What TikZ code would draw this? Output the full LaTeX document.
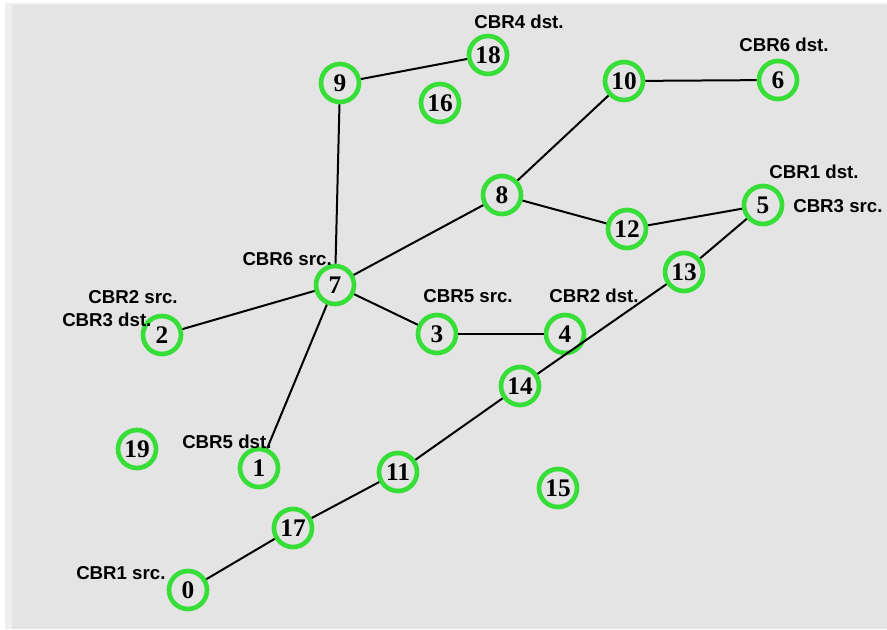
\documentclass[tikz,border=0pt]{standalone}
\usepackage{fontspec}
\setmainfont{Liberation Serif}
\newfontfamily\labfont{Liberation Sans}
\definecolor{bggray}{RGB}{228,228,228}
\definecolor{nodegreen}{RGB}{55,222,55}
\begin{document}
\begin{tikzpicture}[x=0.75pt,y=-0.75pt,
  mote/.style={circle,draw=nodegreen,line width=3.5pt,minimum size=28.5pt,inner sep=0pt,
    font=\fontsize{19}{19}\selectfont\bfseries},
  link/.style={black,line width=1.5pt},
  tag/.style={font=\labfont\fontsize{14}{16}\selectfont\bfseries,inner sep=0pt}]
  % canvas
  \useasboundingbox (0,0) rectangle (887,629);
  \fill[white] (0,0) rectangle (887,629);
  \fill[bggray!60] (5,3) rectangle (887,629);
  \fill[bggray] (12,5) rectangle (887,629);

  % nodes
  \node[mote] (n0)  at (188,590) {0};
  \node[mote] (n1)  at (259,468) {1};
  \node[mote] (n2)  at (162,335) {2};
  \node[mote] (n3)  at (437,334) {3};
  \node[mote] (n4)  at (565,334) {4};
  \node[mote] (n5)  at (763,205) {5};
  \node[mote] (n6)  at (778,80)  {6};
  \node[mote] (n7)  at (335,285) {7};
  \node[mote] (n8)  at (502,195) {8};
  \node[mote] (n9)  at (340,83)  {9};
  \node[mote] (n10) at (624,81)  {10};
  \node[mote] (n11) at (398,472) {11};
  \node[mote] (n12) at (627,229) {12};
  \node[mote] (n13) at (684,272) {13};
  \node[mote] (n14) at (520,386) {14};
  \node[mote] (n15) at (558,488) {15};
  \node[mote] (n16) at (440,103) {16};
  \node[mote] (n17) at (293,528) {17};
  \node[mote] (n18) at (488,55)  {18};
  \node[mote] (n19) at (137,449) {19};

  % links
  \draw[link] (n9) -- (n18);
  \draw[link] (n9) -- (n7);
  \draw[link] (n10) -- (n6);
  \draw[link] (n10) -- (n8);
  \draw[link] (n8) -- (n7);
  \draw[link] (n8) -- (n12);
  \draw[link] (n12) -- (n5);
  \draw[link] (n5) -- (n13);
  \draw[link] (n13) -- (n14);
  \draw[link] (n14) -- (n11);
  \draw[link] (n11) -- (n17);
  \draw[link] (n17) -- (n0);
  \draw[link] (n7) -- (n2);
  \draw[link] (n7) -- (n3);
  \draw[link] (n7) -- (n1);
  \draw[link] (n3) -- (n4);

  % traffic labels
  \node[tag] (t4d) at (519,22)  {CBR4 dst.};
  \node[tag] (t6d) at (784,45)  {CBR6 dst.};
  \node[tag] (t1d) at (814,172) {CBR1 dst.};
  \node[tag,anchor=west] (t3s) at (793,206) {CBR3 src.};
  \node[tag,anchor=east] (t6s) at (332,259) {CBR6 src.};
  \node[tag] (t2s) at (133,297) {CBR2 src.};
  \node[tag,anchor=west] (t3d) at (62,320) {CBR3 dst.};
  \node[tag] (t5s) at (468,296) {CBR5 src.};
  \node[tag] (t2d) at (594,296) {CBR2 dst.};
  \node[tag,anchor=west] (t5d) at (182,442) {CBR5 dst.};
  \node[tag,anchor=west] (t1s) at (76,573) {CBR1 src.};
\end{tikzpicture}
\end{document}
